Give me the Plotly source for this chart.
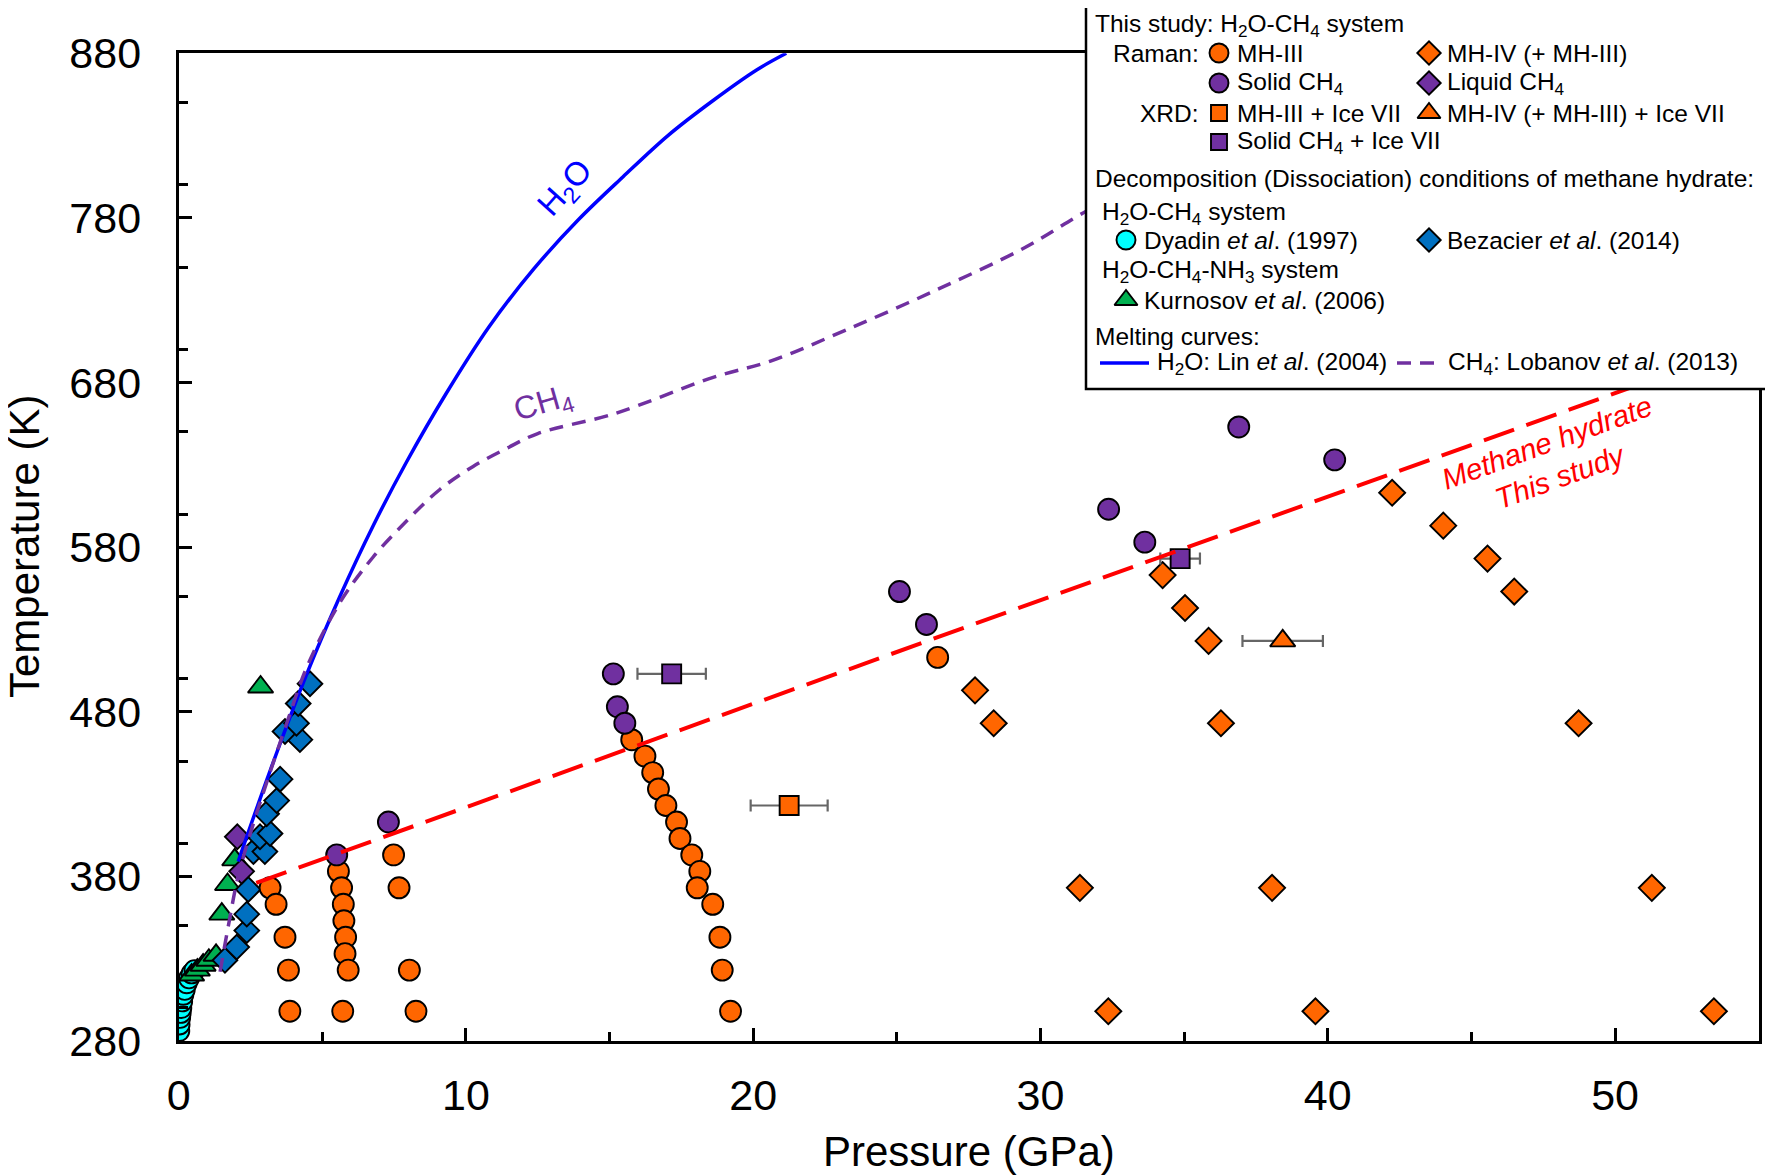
import plotly.graph_objects as go

W, H = 1773, 1175
OFF = 8  # the page body margin shifts the plot div by this many pixels
FONT = "Liberation Sans"

# Dyadin et al. (1997), H2O-CH4
dyadin_p = [0.02, 0.03, 0.05, 0.07, 0.09, 0.12, 0.16, 0.21, 0.28, 0.36, 0.45, 0.55]
dyadin_t = [286, 290, 294, 297, 300, 304, 308, 311, 315, 318, 321, 323]

# Kurnosov et al. (2006), H2O-CH4-NH3
kurnosov_p = [0.45, 0.65, 0.85, 1.05, 1.3, 1.5, 1.7, 1.95, 2.85]
kurnosov_t = [320, 323, 326, 329, 332, 357, 375, 390, 495]

# Bezacier et al. (2014)
bez_p = [1.61, 2.02, 2.37, 2.37, 2.42, 2.6, 3.0, 2.83, 3.18, 3.06, 3.41, 3.53, 4.22, 3.7, 4.1, 4.16, 4.57]
bez_t = [329, 337, 347, 357, 372, 395, 395, 404, 406, 418, 426, 439, 463, 468, 473, 485, 497]

# this study, Raman
mh3_p = [3.18, 3.39, 3.7, 3.82, 3.87,
         5.56, 5.67, 5.73, 5.75, 5.81, 5.79, 5.9, 5.71,
         7.48, 7.67, 8.03, 8.26,
         15.77, 16.23, 16.5, 16.7, 16.96, 17.33, 17.45, 17.86, 18.14, 18.05, 18.59, 18.84, 18.92, 19.21,
         26.42]
mh3_t = [373, 363, 343, 323, 298,
         383, 373, 363, 353, 343, 333, 323, 298,
         393, 373, 323, 298,
         463, 453, 443, 433, 423, 413, 403, 393, 383, 373, 363, 343, 323, 298,
         513]

solid_p = [5.5, 7.3, 15.13, 15.27, 15.53, 25.09, 26.03, 32.37, 33.63, 36.9, 40.24]
solid_t = [393, 413, 503, 483, 473, 553, 533, 603, 583, 653, 633]

mh4_p = [27.72, 28.37, 31.37, 32.36, 34.25, 35.03, 35.85, 36.28, 38.06, 39.57,
         42.24, 44.02, 45.56, 46.49, 48.73, 51.28, 53.44]
mh4_t = [493, 473, 373, 298, 563, 543, 523, 473, 373, 298,
         613, 593, 573, 553, 473, 373, 298]

liquid_p = [2.04, 2.19]
liquid_t = [404, 383]

# this study, XRD
xrd_mh3_p, xrd_mh3_t, xrd_mh3_err = [21.25], [423], [1.34]
xrd_solid_p, xrd_solid_t, xrd_solid_err = [17.16, 34.86], [503, 573], [1.19, 0.69]
xrd_mh4_p, xrd_mh4_t, xrd_mh4_err = [38.43], [523], [1.4]

# melting curves
h2o_p = [2.07, 3.2, 4.46, 5.61, 6.77, 7.94, 9.3, 10.81, 12.36, 13.92, 15.47, 17.03, 18.58, 20.13, 21.15]
h2o_t = [389, 445, 503, 550, 593, 632, 673, 714, 749, 779, 805, 830, 851, 870, 880]
ch4_p = [1.44, 1.73, 2.07, 2.6, 3.12, 3.8, 4.46, 5.6, 6.77, 7.94, 9.09, 10.25, 11.42, 12.5,
         15.16, 18.58, 20.6, 23.24, 26.35, 29.46, 31.48, 33.0]
ch4_t = [322, 350, 380, 412, 440, 475, 507, 546, 574, 596, 615, 629, 640, 649,
         661, 683, 693, 712, 736, 762, 783, 797]

# methane hydrate decomposition line, this study
hyd_p = [2.7, 55]
hyd_t = [376, 705]

ORANGE = "#ff6600"
PURPLE = "#7030a0"
CYAN = "#00ffff"
BLUE_D = "#0070c0"
GREEN = "#00b050"


def mk(color, symbol, size):
    return dict(color=color, symbol=symbol, size=size, line=dict(color="black", width=1.9))


fig = go.Figure()

pts = [
    (dyadin_p, dyadin_t, mk(CYAN, "circle", 20)),
    (kurnosov_p, kurnosov_t, mk(GREEN, "triangle-up", 22)),
    (bez_p, bez_t, mk(BLUE_D, "diamond", 19)),
    (liquid_p, liquid_t, mk(PURPLE, "diamond", 19)),
    (mh3_p, mh3_t, mk(ORANGE, "circle", 21)),
    (solid_p, solid_t, mk(PURPLE, "circle", 21)),
    (mh4_p, mh4_t, mk(ORANGE, "diamond", 20)),
]
for px_, py_, m in pts:
    fig.add_trace(go.Scatter(x=px_, y=py_, mode="markers", marker=m, showlegend=False))

for px_, py_, err, m in [
    (xrd_mh3_p, xrd_mh3_t, xrd_mh3_err, mk(ORANGE, "square", 19)),
    (xrd_solid_p, xrd_solid_t, xrd_solid_err, mk(PURPLE, "square", 19)),
    (xrd_mh4_p, xrd_mh4_t, xrd_mh4_err, mk(ORANGE, "triangle-up", 22)),
]:
    fig.add_trace(go.Scatter(x=px_, y=py_, mode="markers", marker=m, showlegend=False,
                             error_x=dict(type="data", array=err, color="#666666",
                                          thickness=2.2, width=6)))

fig.add_trace(go.Scatter(x=hyd_p, y=hyd_t, mode="lines", showlegend=False,
                         line=dict(color="#ff0000", width=4, dash="32px,13px")))
fig.add_trace(go.Scatter(x=h2o_p, y=h2o_t, mode="lines", showlegend=False,
                         line=dict(color="#0000ff", width=3.5, shape="spline")))
fig.add_trace(go.Scatter(x=ch4_p, y=ch4_t, mode="lines", showlegend=False,
                         line=dict(color=PURPLE, width=3.5, dash="14px,9px", shape="spline")))

# ---- legend box, drawn on a pixel-coordinate overlay (page pixels) ----
lx0, lx1, ly0, ly1 = 1086, 1770, 2, 389
fig.add_trace(go.Scatter(x=[lx0, lx1, lx1, lx0, lx0], y=[ly0, ly0, ly1, ly1, ly0],
                         xaxis="x2", yaxis="y2", mode="lines", fill="toself",
                         fillcolor="white", line=dict(color="black", width=2.5),
                         showlegend=False, hoverinfo="skip"))

c1, c2, c3 = 1219, 1429, 1126
rows = [25, 53, 83, 113, 142, 178, 213, 240, 271, 300, 336, 363]
leg_marks = [
    (c1, rows[1], mk(ORANGE, "circle", 19)),
    (c2, rows[1], mk(ORANGE, "diamond", 18)),
    (c1, rows[2], mk(PURPLE, "circle", 19)),
    (c2, rows[2], mk(PURPLE, "diamond", 18)),
    (c1, rows[3], mk(ORANGE, "square", 16)),
    (c2, rows[3], mk(ORANGE, "triangle-up", 20)),
    (c1, rows[4], mk(PURPLE, "square", 16)),
    (c3, rows[7], mk(CYAN, "circle", 19)),
    (c2, rows[7], mk(BLUE_D, "diamond", 18)),
    (c3, rows[9], mk(GREEN, "triangle-up", 20)),
]
for x_, y_, m in leg_marks:
    fig.add_trace(go.Scatter(x=[x_], y=[y_], xaxis="x2", yaxis="y2", mode="markers",
                             marker=m, showlegend=False, cliponaxis=False))
fig.add_trace(go.Scatter(x=[1100, 1149], y=[rows[11], rows[11]], xaxis="x2", yaxis="y2",
                         mode="lines", line=dict(color="#0000ff", width=3.5), showlegend=False))
fig.add_trace(go.Scatter(x=[1397, 1441], y=[rows[11], rows[11]], xaxis="x2", yaxis="y2",
                         mode="lines", line=dict(color=PURPLE, width=3.5, dash="14px,9px"),
                         showlegend=False))

LF = 24.5
legend_text = [
    (1093, rows[0], "left", "This study: H<sub>2</sub>O-CH<sub>4</sub> system"),
    (1201, rows[1], "right", "Raman:"),
    (1235, rows[1], "left", "MH-III"),
    (1445, rows[1], "left", "MH-IV (+ MH-III)"),
    (1235, rows[2], "left", "Solid CH<sub>4</sub>"),
    (1445, rows[2], "left", "Liquid CH<sub>4</sub>"),
    (1201, rows[3], "right", "XRD:"),
    (1235, rows[3], "left", "MH-III + Ice VII"),
    (1445, rows[3], "left", "MH-IV (+ MH-III) + Ice VII"),
    (1235, rows[4], "left", "Solid CH<sub>4</sub> + Ice VII"),
    (1093, rows[5], "left", "Decomposition (Dissociation) conditions of methane hydrate:"),
    (1100, rows[6], "left", "H<sub>2</sub>O-CH<sub>4</sub> system"),
    (1142, rows[7], "left", "Dyadin <i>et al</i>. (1997)"),
    (1445, rows[7], "left", "Bezacier <i>et al</i>. (2014)"),
    (1100, rows[8], "left", "H<sub>2</sub>O-CH<sub>4</sub>-NH<sub>3</sub> system"),
    (1142, rows[9], "left", "Kurnosov <i>et al</i>. (2006)"),
    (1093, rows[10], "left", "Melting curves:"),
    (1155, rows[11], "left", "H<sub>2</sub>O: Lin <i>et al</i>. (2004)"),
    (1446, rows[11], "left", "CH<sub>4</sub>: Lobanov <i>et al</i>. (2013)"),
]
for x_, y_, anc, txt in legend_text:
    fig.add_annotation(x=x_, y=y_, xref="x2", yref="y2", text=txt, showarrow=False,
                       xanchor=anc, yanchor="middle", font=dict(family=FONT, size=LF, color="black"))

# curve labels
fig.add_annotation(x=566, y=189, xref="x2", yref="y2", text="H<sub>2</sub>O", showarrow=False,
                   textangle=-48, font=dict(family=FONT, size=33, color="#0000ff"))
fig.add_annotation(x=543, y=404, xref="x2", yref="y2", text="CH<sub>4</sub>", showarrow=False,
                   textangle=-16, font=dict(family=FONT, size=32, color=PURPLE))
fig.add_annotation(x=1546, y=442, xref="x2", yref="y2", text="<i>Methane hydrate</i>",
                   showarrow=False, textangle=-20, font=dict(family=FONT, size=29.5, color="#ff0000"))
fig.add_annotation(x=1560, y=476, xref="x2", yref="y2", text="<i>This study</i>",
                   showarrow=False, textangle=-20, font=dict(family=FONT, size=29.5, color="#ff0000"))

# axis titles
fig.add_annotation(x=969, y=1151, xref="x2", yref="y2", text="Pressure (GPa)", showarrow=False,
                   font=dict(family=FONT, size=42, color="black"))
fig.add_annotation(x=24, y=547, xref="x2", yref="y2", text="Temperature (K)", showarrow=False,
                   textangle=-90, font=dict(family=FONT, size=42, color="black"))

axis_common = dict(showline=True, linecolor="black", linewidth=3, mirror=True,
                   ticks="inside", ticklen=13, tickwidth=2.5, tickcolor="black",
                   showgrid=False, zeroline=False, automargin=False,
                   tickfont=dict(family=FONT, size=43, color="black"))

fig.update_layout(
    width=W, height=H, autosize=False,
    margin=dict(l=0, r=0, t=0, b=0, pad=0),
    paper_bgcolor="white", plot_bgcolor="rgba(0,0,0,0)",
    showlegend=False,
    xaxis=dict(domain=[(178.7 - OFF) / W, (1758.7 - OFF) / W], range=[0, 55], tick0=0, dtick=10,
               ticklabelstandoff=14, anchor="y",
               minor=dict(dtick=5, ticks="inside", ticklen=9, tickwidth=2.5, tickcolor="black"),
               **axis_common),
    yaxis=dict(domain=[1 - (1040.9 - OFF) / H, 1 - (53.3 - OFF) / H], range=[280, 880],
               tick0=280, dtick=100, ticklabelstandoff=26, anchor="x",
               minor=dict(dtick=50, ticks="inside", ticklen=9, tickwidth=2.5, tickcolor="black"),
               **axis_common),
    xaxis2=dict(domain=[0, 1], range=[OFF, W + OFF], visible=False, anchor="y2", automargin=False),
    yaxis2=dict(domain=[0, 1], range=[H + OFF, OFF], visible=False, anchor="x2", automargin=False),
)

fig.write_html("out.html")
